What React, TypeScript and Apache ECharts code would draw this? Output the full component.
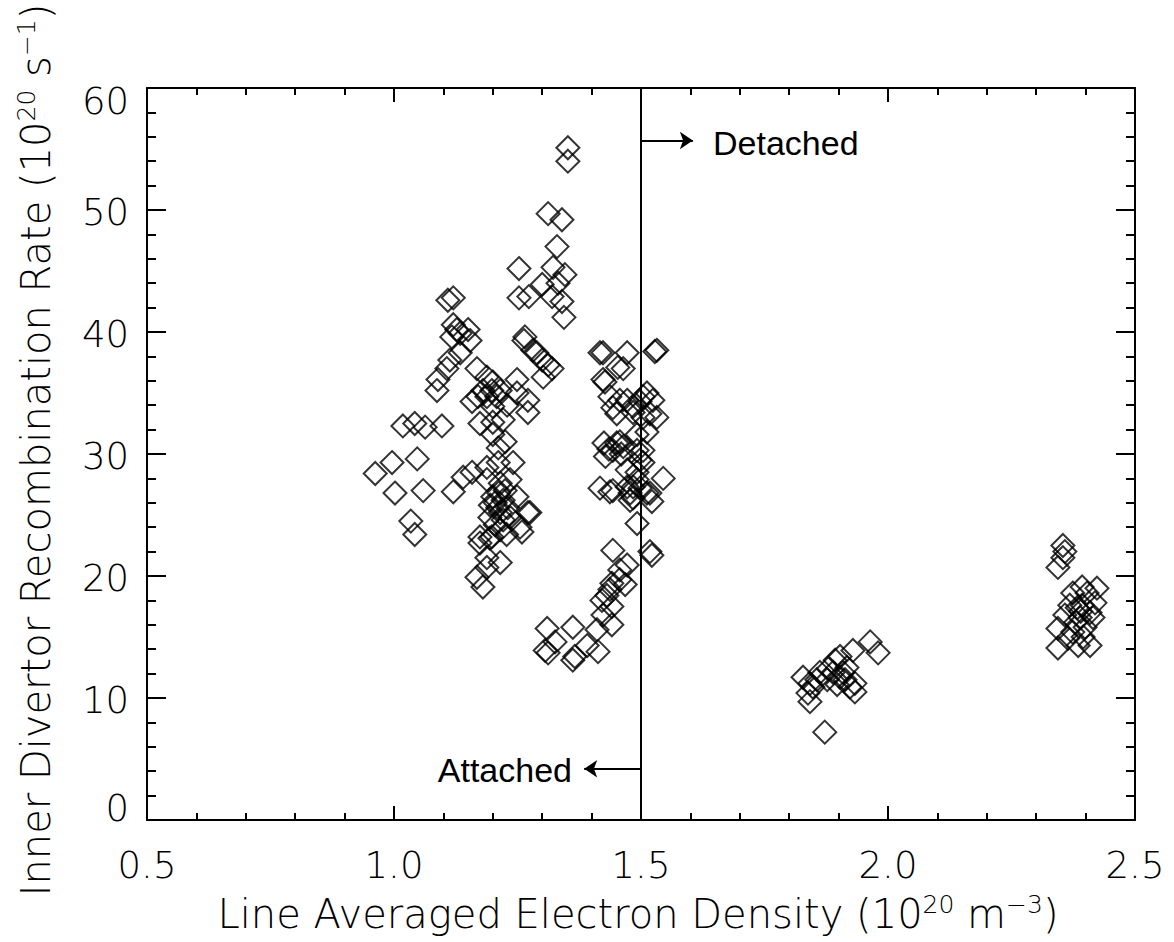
import React, { useEffect, useRef } from "react";
import * as echarts from "echarts";

// Line averaged electron density (1e20 m^-3) vs. inner divertor recombination rate (1e20 s^-1)
const leftSparse: number[][] = [
  [0.962, 28.4], [0.996, 29.3], [1.047, 29.6], [1.002, 26.8], [1.059, 27.0], [1.034, 24.5],
  [1.042, 23.4], [1.018, 32.3], [1.042, 32.5], [1.063, 32.2], [1.097, 32.3],
];

const leftUpper: number[][] = [
  [1.109, 42.6], [1.12, 42.8], [1.12, 40.6], [1.127, 40.2], [1.117, 39.6], [1.134, 39.9],
  [1.15, 40.2], [1.154, 39.3], [1.134, 38.3], [1.113, 37.7], [1.107, 37.0], [1.089, 36.1],
  [1.087, 35.2], [1.168, 37.0], [1.188, 36.3], [1.2, 35.9], [1.198, 35.2], [1.18, 35.2],
  [1.188, 34.7], [1.208, 34.7], [1.215, 35.2], [1.249, 36.1], [1.158, 34.3], [1.17, 34.7],
  [1.2, 33.9], [1.229, 34.0], [1.249, 35.0], [1.271, 34.4], [1.271, 33.4], [1.174, 32.5],
  [1.2, 32.6], [1.221, 32.8], [1.2, 31.6], [1.225, 31.0], [1.211, 30.5],
];

const leftLower: number[][] = [
  [1.12, 26.9], [1.14, 28.1], [1.158, 28.5], [1.188, 28.9], [1.211, 29.3], [1.241, 29.3],
  [1.188, 27.9], [1.215, 27.6], [1.235, 27.9], [1.2, 26.5], [1.221, 26.2], [1.249, 26.5],
  [1.271, 25.2], [1.194, 24.8], [1.215, 25.2], [1.235, 24.8], [1.174, 23.2], [1.198, 23.2],
  [1.215, 23.8], [1.255, 24.0], [1.221, 24.6], [1.275, 25.2], [1.259, 23.6], [1.174, 22.7],
  [1.194, 23.1], [1.215, 21.1], [1.188, 21.5], [1.168, 19.9], [1.18, 19.1], [1.188, 20.7],
  [1.205, 26.0], [1.21, 25.6], [1.225, 27.0], [1.205, 24.2], [1.23, 25.6], [1.212, 26.8],
  [1.195, 25.8], [1.228, 23.4],
];

const midUpper: number[][] = [
  [1.352, 55.1], [1.352, 54.0], [1.312, 49.7], [1.34, 49.2], [1.33, 47.0], [1.253, 45.2],
  [1.322, 45.3], [1.346, 44.7], [1.3, 43.9], [1.332, 44.0], [1.253, 42.8], [1.273, 42.9],
  [1.32, 42.9], [1.34, 42.5], [1.344, 41.2], [1.265, 39.6], [1.263, 39.3], [1.281, 38.5],
  [1.289, 38.3], [1.3, 37.7], [1.312, 37.3], [1.302, 36.3], [1.32, 37.0],
];

const midCurve: number[][] = [
  [1.31, 15.7], [1.326, 14.6], [1.312, 13.7], [1.306, 13.9], [1.362, 15.8], [1.366, 13.4],
  [1.362, 13.1], [1.391, 14.3], [1.413, 13.8], [1.411, 15.6], [1.441, 16.0], [1.423, 16.8],
  [1.421, 18.0], [1.431, 18.4], [1.437, 18.9], [1.441, 19.4], [1.457, 19.7], [1.468, 19.3],
  [1.472, 20.9], [1.457, 20.5], [1.441, 17.5], [1.443, 22.1], [1.518, 22.0], [1.522, 21.7],
];

const nearLine: number[][] = [
  [1.417, 38.3], [1.423, 38.3], [1.472, 38.3], [1.528, 38.4], [1.532, 38.5], [1.464, 37.0],
  [1.453, 37.1], [1.423, 36.1], [1.427, 35.9], [1.437, 34.7], [1.472, 34.4], [1.504, 34.7],
  [1.512, 35.0], [1.524, 34.4], [1.498, 34.3], [1.457, 34.4], [1.443, 33.8], [1.451, 33.3],
  [1.484, 33.9], [1.504, 33.0], [1.518, 33.3], [1.532, 33.0], [1.484, 33.4], [1.512, 31.8],
  [1.492, 31.6], [1.451, 30.9], [1.457, 31.0], [1.464, 30.6], [1.443, 30.3], [1.504, 30.3],
  [1.492, 30.3], [1.498, 29.5], [1.504, 29.3], [1.472, 28.7], [1.492, 28.5], [1.545, 28.0],
  [1.492, 27.9], [1.443, 27.0], [1.484, 27.3], [1.498, 27.2], [1.512, 26.8], [1.472, 27.3],
  [1.518, 26.8], [1.522, 26.1], [1.478, 26.2], [1.484, 26.4], [1.492, 24.3], [1.425, 30.9],
  [1.435, 30.4], [1.428, 29.8], [1.417, 27.2], [1.437, 26.9], [1.478, 26.8], [1.46, 30.0],
];

const rightLow: number[][] = [
  [1.828, 11.7], [1.842, 11.2], [1.838, 10.4], [1.842, 9.7], [1.862, 12.1], [1.877, 11.5],
  [1.893, 13.1], [1.903, 13.4], [1.889, 12.1], [1.903, 11.7], [1.897, 11.1], [1.913, 11.5],
  [1.933, 11.2], [1.933, 10.5], [1.923, 10.9], [1.929, 13.9], [1.964, 14.6], [1.98, 13.7],
  [1.872, 7.2], [1.909, 12.1], [1.917, 12.5], [1.879, 12.4], [1.856, 11.5], [1.848, 10.9],
];

const rightHigh: number[][] = [
  [2.354, 22.5], [2.358, 22.0], [2.354, 21.5], [2.344, 20.7], [2.393, 19.1], [2.423, 19.0],
  [2.374, 18.6], [2.403, 18.6], [2.419, 17.8], [2.368, 17.6], [2.383, 17.4], [2.393, 17.6],
  [2.409, 17.0], [2.358, 16.8], [2.389, 16.6], [2.415, 16.6], [2.344, 15.7], [2.399, 15.8],
  [2.374, 15.4], [2.364, 14.9], [2.344, 14.1], [2.385, 14.3], [2.409, 14.3], [2.395, 15.0],
  [2.38, 16.2], [2.39, 17.1],
];

// Regime boundary and the arrow annotations
const boundaryDensity = 1.5;
const detachedArrow = { y: 55.7, toX: 1.605 };
const attachedArrow = { y: 4.2, toX: 1.385 };

const xRange = { min: 0.5, max: 2.5, step: 0.5 };
const yRange = { min: 0, max: 60, step: 10 };

const FONT = "DejaVu Sans";
const black = "#000";

const allPoints = [
  ...leftSparse, ...leftUpper, ...leftLower, ...midUpper,
  ...midCurve, ...nearLine, ...rightLow, ...rightHigh,
];

const lineStyle = { color: black, width: 2 };
const labelFont = { fontFamily: FONT, fontWeight: 200, fontSize: 37, color: black };

function xAxis(position: "bottom" | "top", labels: boolean) {
  return {
    type: "value",
    position,
    min: xRange.min,
    max: xRange.max,
    interval: xRange.step,
    axisLine: { show: true, onZero: false, lineStyle },
    axisTick: { show: true, inside: true, length: 14, lineStyle },
    minorTick: { show: true, splitNumber: 5, length: 7, lineStyle },
    splitLine: { show: false },
    minorSplitLine: { show: false },
    axisLabel: {
      show: labels,
      margin: 27,
      ...labelFont,
      formatter: (v: number) => v.toFixed(1),
    },
  };
}

function yAxis(position: "left" | "right", labels: boolean) {
  return {
    type: "value",
    position,
    min: yRange.min,
    max: yRange.max,
    interval: yRange.step,
    axisLine: { show: true, onZero: false, lineStyle },
    axisTick: { show: true, inside: true, length: 19, lineStyle },
    minorTick: { show: true, splitNumber: 5, length: 9, lineStyle },
    splitLine: { show: false },
    minorSplitLine: { show: false },
    axisLabel: {
      show: labels,
      margin: 18,
      ...labelFont,
      formatter: (v: number) =>
        v === yRange.min ? `{lo|${v}}` : v === yRange.max ? `{hi|${v}}` : `{mid|${v}}`,
      rich: {
        lo: { ...labelFont, padding: [0, 0, 23, 0] },
        hi: { ...labelFont, padding: [27, 0, 0, 0] },
        mid: { ...labelFont, padding: [5, 0, 0, 0] },
      },
    },
  };
}

const titleStyle = {
  fontFamily: FONT,
  fontWeight: 200,
  fontSize: 40,
  lineHeight: 44,
  fill: black,
  align: "center",
  verticalAlign: "middle",
  rich: {
    sup: {
      fontFamily: FONT,
      fontWeight: 200,
      fontSize: 25,
      lineHeight: 8,
      verticalAlign: "top",
      fill: black,
      color: black,
    },
  },
};

const noteStyle = {
  fontFamily: "Liberation Sans",
  fontSize: 34,
  fill: black,
  verticalAlign: "middle",
};

export default function App() {
  const ref = useRef<HTMLDivElement>(null);

  useEffect(() => {
    document.body.style.margin = "0";
    const chart = echarts.init(ref.current!, null, { renderer: "svg" });
    chart.setOption({
      animation: false,
      backgroundColor: "#fff",
      grid: { left: 147, right: 39, top: 88, bottom: 122, containLabel: false },
      xAxis: [xAxis("bottom", true), xAxis("top", false)],
      yAxis: [yAxis("left", true), yAxis("right", false)],
      series: [
        {
          type: "scatter",
          symbol: "diamond",
          symbolSize: 23,
          silent: true,
          data: allPoints,
          itemStyle: { color: "rgba(0,0,0,0)", borderColor: black, borderWidth: 2 },
          markLine: {
            silent: true,
            animation: false,
            symbol: ["none", "none"],
            label: { show: false },
            lineStyle: { color: black, width: 2, type: "solid" },
            data: [
              { xAxis: boundaryDensity },
              [
                { coord: [boundaryDensity, detachedArrow.y], symbol: "none" },
                { coord: [detachedArrow.toX, detachedArrow.y], symbol: "arrow", symbolSize: 13 },
              ],
              [
                { coord: [boundaryDensity, attachedArrow.y], symbol: "none" },
                { coord: [attachedArrow.toX, attachedArrow.y], symbol: "arrow", symbolSize: 13 },
              ],
            ],
          },
        },
      ],
      graphic: [
        {
          type: "text",
          x: 638,
          y: 914,
          silent: true,
          style: {
            ...titleStyle,
            text: "Line Averaged Electron Density (10{sup|20} m{sup|\u22123})",
          },
        },
        {
          type: "text",
          x: 36,
          y: 450,
          rotation: Math.PI / 2,
          silent: true,
          style: {
            ...titleStyle,
            text: "Inner Divertor Recombination Rate (10{sup|20} s{sup|\u22121})",
          },
        },
        {
          type: "text",
          x: 713,
          y: 143,
          silent: true,
          style: { ...noteStyle, align: "left", text: "Detached" },
        },
        {
          type: "text",
          x: 572,
          y: 770,
          silent: true,
          style: { ...noteStyle, align: "right", text: "Attached" },
        },
      ],
    });
    return () => chart.dispose();
  }, []);

  return <div ref={ref} style={{ width: 1174, height: 942 }} />;
}
